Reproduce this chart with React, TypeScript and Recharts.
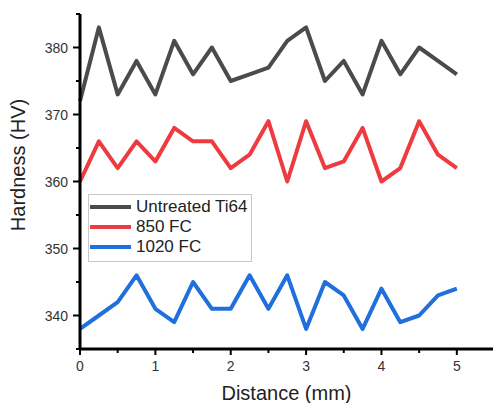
import React from "react";
import { LineChart, Line, XAxis, YAxis, Legend } from "recharts";

// distance along the sample (mm)
const distance = [0, 0.25, 0.5, 0.75, 1, 1.25, 1.5, 1.75, 2, 2.25, 2.5, 2.75, 3, 3.25, 3.5, 3.75, 4, 4.25, 4.5, 4.75, 5];

const untreated = [372, 383, 373, 378, 373, 381, 376, 380, 375, 376, 377, 381, 383, 375, 378, 373, 381, 376, 380, 378, 376];
const fc850 = [360, 366, 362, 366, 363, 368, 366, 366, 362, 364, 369, 360, 369, 362, 363, 368, 360, 362, 369, 364, 362];
const fc1020 = [338, 340, 342, 346, 341, 339, 345, 341, 341, 346, 341, 346, 338, 345, 343, 338, 344, 339, 340, 343, 344];

const seriesNames = ["Untreated Ti64", "850 FC", "1020 FC"];
const xTicks = [0, 0.5, 1, 1.5, 2, 2.5, 3, 3.5, 4, 4.5, 5];
const yTicks = [335, 340, 345, 350, 355, 360, 365, 370, 375, 380, 385];

const FONT = "'Liberation Sans', Arial, sans-serif";

const data = distance.map((d, i) => ({
  d,
  untreated: untreated[i],
  fc850: fc850[i],
  fc1020: fc1020[i],
}));

const XTick = ({ x, y, payload }: any) => {
  const major = Number.isInteger(payload.value);
  return (
    <g>
      <line x1={x} x2={x} y1={y} y2={y + (major ? 6 : 4)} stroke="#000" strokeWidth={2} />
      {major && (
        <text x={x} y={y + 12} dy="0.71em" textAnchor="middle" fontSize={14} fill="#333" fontFamily={FONT}>
          {payload.value}
        </text>
      )}
    </g>
  );
};

const YTick = ({ x, y, payload }: any) => {
  const major = payload.value % 10 === 0;
  return (
    <g>
      <line x1={x - (major ? 7 : 4)} x2={x} y1={y} y2={y} stroke="#000" strokeWidth={2} />
      {major && (
        <text x={x - 12} y={y} dominantBaseline="central" textAnchor="end" fontSize={14} fill="#333" fontFamily={FONT}>
          {payload.value}
        </text>
      )}
    </g>
  );
};

// keep legend rows in the plotting order
const LegendBox = ({ payload }: any) => {
  const items = [...(payload || [])].sort(
    (a: any, b: any) => seriesNames.indexOf(a.value) - seriesNames.indexOf(b.value)
  );
  return (
    <div
      style={{
        width: 164,
        boxSizing: "border-box",
        border: "1px solid #c8c8c8",
        padding: "2px 1px 4px 1px",
        background: "#fff",
        fontFamily: FONT,
        fontSize: 17,
        color: "#222",
      }}
    >
      {items.map((p: any) => (
        <div key={p.value} style={{ display: "flex", alignItems: "center", height: 20 }}>
          <span style={{ display: "inline-block", width: 41, height: 4, background: p.color, marginRight: 5 }} />
          {p.value}
        </div>
      ))}
    </div>
  );
};

export default function App() {
  return (
    <div>
      <style>{"body{margin:0}"}</style>
      <LineChart width={493} height={403} data={data} margin={{ top: 14, right: 0, bottom: 0, left: 0 }}>
        <XAxis
          dataKey="d"
          type="number"
          domain={[0, 5.48]}
          ticks={xTicks}
          height={54}
          tickSize={0}
          tickMargin={0}
          tickLine={false}
          tick={<XTick />}
          axisLine={{ stroke: "#000", strokeWidth: 3 }}
          label={{
            value: "Distance (mm)",
            position: "insideBottom",
            offset: 3,
            fontSize: 20,
            fill: "#222",
            fontFamily: FONT,
          }}
        />
        <YAxis
          type="number"
          domain={[335, 385]}
          ticks={yTicks}
          width={80}
          tickSize={0}
          tickMargin={0}
          tickLine={false}
          tick={<YTick />}
          axisLine={{ stroke: "#000", strokeWidth: 3 }}
          label={{
            content: () => (
              <text
                x={18}
                y={165}
                transform="rotate(-90, 18, 165)"
                textAnchor="middle"
                dominantBaseline="central"
                fontSize={20}
                fill="#222"
                fontFamily={FONT}
              >
                Hardness (HV)
              </text>
            ),
          }}
        />
        <Legend
          layout="vertical"
          align="center"
          verticalAlign="middle"
          content={<LegendBox />}
          wrapperStyle={{ position: "absolute", left: 88, top: 194, width: "auto" }}
        />
        <Line
          dataKey="untreated"
          name={seriesNames[0]}
          stroke="#4b4b4b"
          strokeWidth={4}
          strokeLinejoin="round"
          dot={false}
          isAnimationActive={false}
        />
        <Line
          dataKey="fc850"
          name={seriesNames[1]}
          stroke="#ee3b40"
          strokeWidth={4}
          strokeLinejoin="round"
          dot={false}
          isAnimationActive={false}
        />
        <Line
          dataKey="fc1020"
          name={seriesNames[2]}
          stroke="#1f6fdc"
          strokeWidth={4}
          strokeLinejoin="round"
          dot={false}
          isAnimationActive={false}
        />
      </LineChart>
    </div>
  );
}
